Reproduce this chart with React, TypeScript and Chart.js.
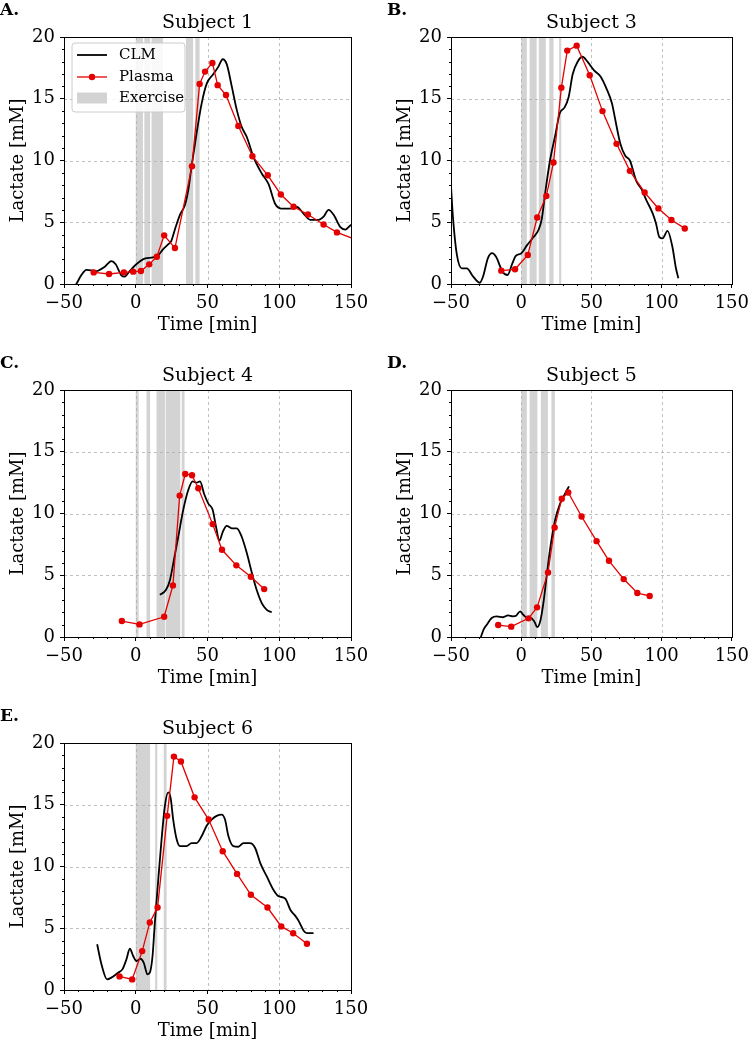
import React, { useEffect, useRef } from "react";
import { Chart, registerables } from "chart.js";
Chart.register(...registerables);

const FONT = '"DejaVu Serif", serif';
const RED = "rgb(228,0,0)";
const BAND = "#d3d3d3";

// Axis ticks
const xTicks = [-50, 0, 50, 100, 150];
const yTicks = [0, 5, 10, 15, 20];

// Subject 1
const s1ClmT = [-43, -41.4, -38, -34.4, -27.4, -21.6, -17, -14, -10, -7.7, -4.2, 0.4, 6.2, 12, 15.5, 19, 22.5, 24.8, 27.5, 30.8, 34.3, 36.6, 38.9, 42.4, 45.9, 49.4, 54.1, 57.6, 60.6, 63.4, 66.9, 70.4, 73.9, 77.4, 82, 87.8, 92.5, 97.1, 101.8, 107.6, 112.3, 116.9, 121.6, 127.4, 130.9, 134.4, 137.9, 142.6, 146, 150, 153];
const s1ClmV = [-0.3, 0, 0.7, 1.15, 1.05, 1.4, 1.85, 1.6, 0.7, 0.6, 1.05, 1.6, 2.05, 2.15, 2.3, 2.8, 3.2, 3.5, 4.5, 5.6, 6.4, 7.6, 9.5, 12.2, 14.6, 16.2, 17.0, 17.6, 18.2, 17.8, 16.0, 14.1, 12.7, 11.9, 10.3, 8.95, 8.1, 6.5, 6.1, 6.1, 6.25, 5.7, 5.2, 5.2, 5.45, 6.0, 5.6, 4.6, 4.4, 4.8, 5.0];
const s1PlT = [-29.3, -18.6, -8.3, -1.8, 3.6, 9.4, 14.7, 19.8, 27.3, 39.2, 44.5, 48.3, 53.4, 57.1, 62.9, 71.5, 81.3, 92.0, 101.1, 110, 120, 130.9, 140.2, 160];
const s1PlV = [0.94, 0.81, 0.94, 1.0, 1.05, 1.59, 2.21, 3.94, 2.91, 9.54, 16.2, 17.2, 17.9, 16.1, 15.3, 12.8, 10.35, 8.8, 7.25, 6.25, 5.63, 4.82, 4.18, 3.3];
const s1BandStart = [0, 6, 11, 35, 41.5];
const s1BandEnd = [5, 10, 19, 40, 44.5];

// Subject 3
const s3ClmT = [-51, -50, -48.6, -45.8, -42.3, -38.8, -34.2, -29.5, -27.2, -23.7, -20.7, -17.9, -13.3, -9.8, -6.3, -4, 0, 4.2, 8.8, 12.3, 14.7, 17, 20.5, 24, 27.4, 30.9, 33.7, 36.7, 40.2, 43.7, 47.2, 51.9, 56.5, 61.2, 64.7, 67, 70.5, 74, 77.4, 82.1, 85.6, 89.1, 93.7, 96, 98.4, 100.7, 104.2, 107.7, 110, 111.9];
const s3ClmV = [9.5, 7.9, 5.4, 2.35, 1.27, 1.27, 0.6, 0.1, 0.6, 2.1, 2.5, 2.2, 1.0, 0.73, 1.67, 2.26, 2.48, 3.15, 3.8, 4.37, 5.3, 7.3, 10, 11.9, 13.8, 14.3, 15.1, 17, 18, 18.4, 18, 17.3, 16.8, 15.7, 14.6, 13.3, 11.4, 10.4, 10.0, 8.3, 7.7, 6.8, 5.7, 4.9, 3.8, 3.7, 4.3, 3.0, 1.4, 0.46];
const s3PlT = [-14.2, -4.4, 4.7, 11.4, 17.9, 23.0, 28.6, 32.8, 39.5, 48.8, 57.9, 67.9, 77.4, 87.9, 97.7, 107, 116.5];
const s3PlV = [1.08, 1.19, 2.35, 5.39, 7.12, 9.84, 15.9, 18.9, 19.3, 16.9, 14.0, 11.35, 9.16, 7.41, 6.12, 5.18, 4.5];
const s3BandStart = [0, 6, 12.5, 20, 27];
const s3BandEnd = [4, 11, 17.5, 23, 28.5];

// Subject 4
const s4ClmT = [16.8, 21, 23.8, 26.6, 29.6, 33.1, 36.6, 39.6, 42.4, 44.8, 47.6, 50.6, 53.6, 55.9, 58.3, 60.6, 63.4, 66.9, 70.4, 73.9, 77.4, 80.9, 84.3, 87.8, 91.3, 94.8];
const s4ClmV = [3.42, 3.8, 4.6, 6.25, 8.1, 10.3, 11.9, 12.6, 12.5, 12.6, 11.6, 10.8, 10.3, 8.95, 7.8, 8.5, 9.0, 8.8, 8.8, 8.1, 6.8, 5.2, 3.8, 2.75, 2.2, 2.0];
const s4PlT = [-9.7, 2.6, 19.8, 25.9, 30.6, 34.5, 39.2, 43.6, 53.6, 60.1, 70.1, 80.2, 89.5];
const s4PlV = [1.29, 1.02, 1.64, 4.18, 11.45, 13.2, 13.1, 12.05, 9.14, 7.06, 5.8, 4.88, 3.88];
const s4BandStart = [0, 7.5, 14.5, 21, 32];
const s4BandEnd = [2, 10, 20.5, 31, 34];

// Subject 5
const s5ClmT = [-29.5, -28.7, -26.8, -24.5, -21, -17.5, -12.9, -9.4, -5.9, -3.6, -0.8, 1.5, 4.5, 6.8, 9.2, 11.5, 13.8, 16.1, 18.4, 20.8, 24.2, 27.7, 31.2, 34];
const s5ClmV = [-0.3, 0, 0.6, 1.0, 1.54, 1.67, 1.6, 1.75, 1.67, 1.72, 2.08, 1.8, 1.54, 1.54, 1.27, 0.8, 1.4, 3.0, 5.2, 7.3, 9.5, 10.8, 11.6, 12.2];
const s5PlT = [-16.4, -7.1, 5.2, 11.3, 19.1, 23.8, 28.9, 33.5, 43.0, 53.7, 62.5, 73.0, 82.7, 91.5];
const s5PlV = [0.97, 0.84, 1.51, 2.4, 5.23, 8.87, 11.2, 11.7, 9.76, 7.76, 6.17, 4.69, 3.56, 3.32];
const s5BandStart = [0, 6, 14, 21.5];
const s5BandEnd = [4, 11.5, 19, 24];

// Subject 6
const s6ClmT = [-26.9, -23.9, -20, -17, -12.3, -9.3, -6.5, -4.1, -1.8, 0.5, 3.3, 5.6, 8.2, 9.8, 11.7, 13.3, 15.7, 18, 20.3, 22.6, 24.3, 26.1, 28.5, 30.8, 35.4, 38.9, 42.4, 45.9, 49.4, 52.9, 56.4, 59.9, 62.2, 64.6, 68, 71.5, 75, 79.6, 83.2, 86.7, 91.3, 96, 99.5, 104.2, 107.7, 111.2, 113.5, 117, 119.3, 123.9];
const s6ClmV = [3.7, 2.08, 0.86, 1.0, 1.4, 1.67, 2.48, 3.34, 2.75, 2.35, 2.53, 2.2, 1.27, 1.4, 2.75, 5.44, 8.95, 12.2, 14.9, 16.0, 15.55, 13.8, 12.2, 11.65, 11.65, 11.9, 11.9, 12.45, 13.3, 13.8, 14.1, 14.2, 13.8, 12.45, 11.65, 11.6, 11.9, 11.9, 11.5, 10.3, 9.2, 8.1, 7.6, 7.4, 6.5, 6.0, 5.6, 4.8, 4.6, 4.6];
const s6PlT = [-11.3, -2.5, 4.5, 9.8, 15.2, 21.9, 26.6, 31.5, 41.0, 50.8, 60.6, 70.6, 80.2, 91.8, 101.4, 109.7, 119.3];
const s6PlV = [1.1, 0.86, 3.15, 5.47, 6.68, 14.1, 18.9, 18.5, 15.6, 13.8, 11.24, 9.4, 7.71, 6.68, 5.15, 4.6, 3.75];
const s6BandStart = [0, 13.5, 19.5];
const s6BandEnd = [10, 15, 21.5];

const zip = (t: number[], v: number[]) => t.map((x, i) => ({ x, y: v[i] }));

type PanelDef = {
  label: string;
  title: string;
  clmT: number[];
  clmV: number[];
  plT: number[];
  plV: number[];
  bs: number[];
  be: number[];
  left: number;
  top: number;
  padLeft: number;
  padRight: number;
  legend: boolean;
};

const panels: PanelDef[] = [
  { label: "A.", title: "Subject 1", clmT: s1ClmT, clmV: s1ClmV, plT: s1PlT, plV: s1PlV, bs: s1BandStart, be: s1BandEnd, left: 0, top: 0, padLeft: 0, padRight: 26, legend: true },
  { label: "B.", title: "Subject 3", clmT: s3ClmT, clmV: s3ClmV, plT: s3PlT, plV: s3PlV, bs: s3BandStart, be: s3BandEnd, left: 377, top: 0, padLeft: 10, padRight: 16, legend: false },
  { label: "C.", title: "Subject 4", clmT: s4ClmT, clmV: s4ClmV, plT: s4PlT, plV: s4PlV, bs: s4BandStart, be: s4BandEnd, left: 0, top: 353, padLeft: 0, padRight: 26, legend: false },
  { label: "D.", title: "Subject 5", clmT: s5ClmT, clmV: s5ClmV, plT: s5PlT, plV: s5PlV, bs: s5BandStart, be: s5BandEnd, left: 377, top: 353, padLeft: 10, padRight: 16, legend: false },
  { label: "E.", title: "Subject 6", clmT: s6ClmT, clmV: s6ClmV, plT: s6PlT, plV: s6PlV, bs: s6BandStart, be: s6BandEnd, left: 0, top: 706, padLeft: 0, padRight: 26, legend: false },
];

const W = 377;
const H = 336;
const PLOT_BOTTOM = 284;

function makeDecor(p: PanelDef) {
  return {
    id: "decor",
    beforeDatasetsDraw(chart: any) {
      const { ctx, chartArea: a, scales } = chart;
      const xs = scales.x;
      const ys = scales.y;
      ctx.save();
      ctx.beginPath();
      ctx.rect(a.left, a.top, a.right - a.left, a.bottom - a.top);
      ctx.clip();
      ctx.fillStyle = BAND;
      p.bs.forEach((s, i) => {
        const x0 = xs.getPixelForValue(s);
        const x1 = xs.getPixelForValue(p.be[i]);
        ctx.fillRect(x0, a.top, x1 - x0, a.bottom - a.top);
      });
      ctx.strokeStyle = "#b0b0b0";
      ctx.lineWidth = 0.8;
      ctx.setLineDash([3, 3]);
      xTicks.slice(1, -1).forEach((v) => {
        const x = Math.round(xs.getPixelForValue(v)) + 0.5;
        ctx.beginPath();
        ctx.moveTo(x, a.top);
        ctx.lineTo(x, a.bottom);
        ctx.stroke();
      });
      yTicks.slice(1, -1).forEach((v) => {
        const y = Math.round(ys.getPixelForValue(v)) + 0.5;
        ctx.beginPath();
        ctx.moveTo(a.left, y);
        ctx.lineTo(a.right, y);
        ctx.stroke();
      });
      ctx.restore();
    },
    afterDatasetsDraw(chart: any) {
      const { ctx, chartArea: a, scales } = chart;
      const xs = scales.x;
      const ys = scales.y;
      ctx.save();
      // frame
      ctx.strokeStyle = "#000";
      ctx.lineWidth = 1;
      ctx.setLineDash([]);
      ctx.strokeRect(Math.round(a.left) + 0.5, Math.round(a.top) + 0.5, Math.round(a.right - a.left), Math.round(a.bottom - a.top));
      // minor ticks
      ctx.beginPath();
      for (let v = 1; v < 20; v++) {
        if (v % 5 === 0) continue;
        const y = Math.round(ys.getPixelForValue(v)) + 0.5;
        ctx.moveTo(a.left, y);
        ctx.lineTo(a.left - 2, y);
      }
      for (let v = -40; v < 150; v += 10) {
        if (v % 50 === 0) continue;
        const x = Math.round(xs.getPixelForValue(v)) + 0.5;
        ctx.moveTo(x, a.bottom);
        ctx.lineTo(x, a.bottom + 2);
      }
      ctx.stroke();
      // title
      ctx.fillStyle = "#000";
      ctx.font = `19px ${FONT}`;
      ctx.textAlign = "center";
      ctx.textBaseline = "alphabetic";
      ctx.fillText(p.title, (a.left + a.right) / 2, 28);
      // panel label
      ctx.font = `bold 17px ${FONT}`;
      ctx.textAlign = "left";
      ctx.fillText(p.label, p.padLeft, 15);
      // legend
      if (p.legend) {
        const lx = 72, ly = 43, lw = 113, lh = 69, r = 3;
        ctx.beginPath();
        ctx.moveTo(lx + r, ly);
        ctx.arcTo(lx + lw, ly, lx + lw, ly + lh, r);
        ctx.arcTo(lx + lw, ly + lh, lx, ly + lh, r);
        ctx.arcTo(lx, ly + lh, lx, ly, r);
        ctx.arcTo(lx, ly, lx + lw, ly, r);
        ctx.closePath();
        ctx.fillStyle = "rgba(255,255,255,0.85)";
        ctx.fill();
        ctx.strokeStyle = "#cccccc";
        ctx.lineWidth = 1;
        ctx.stroke();
        const sx0 = 77, sx1 = 107, tx = 119;
        const rows = [55, 77, 98];
        ctx.strokeStyle = "#000";
        ctx.lineWidth = 1.8;
        ctx.beginPath();
        ctx.moveTo(sx0, rows[0]);
        ctx.lineTo(sx1, rows[0]);
        ctx.stroke();
        ctx.strokeStyle = RED;
        ctx.lineWidth = 1.3;
        ctx.beginPath();
        ctx.moveTo(sx0, rows[1]);
        ctx.lineTo(sx1, rows[1]);
        ctx.stroke();
        ctx.fillStyle = RED;
        ctx.beginPath();
        ctx.arc((sx0 + sx1) / 2, rows[1], 3.2, 0, Math.PI * 2);
        ctx.fill();
        ctx.fillStyle = BAND;
        ctx.fillRect(sx0, rows[2] - 5.5, sx1 - sx0, 11);
        ctx.fillStyle = "#000";
        ctx.font = `15px ${FONT}`;
        ctx.textBaseline = "middle";
        ctx.fillText("CLM", tx, rows[0]);
        ctx.fillText("Plasma", tx, rows[1]);
        ctx.fillText("Exercise", tx, rows[2]);
      }
      ctx.restore();
    },
  };
}

function Panel({ p }: { p: PanelDef }) {
  const ref = useRef<HTMLCanvasElement>(null);
  useEffect(() => {
    const tickFont = { family: FONT, size: 18 };
    const chart = new Chart(ref.current as HTMLCanvasElement, {
      type: "scatter",
      data: {
        datasets: [
          {
            label: "Plasma",
            data: zip(p.plT, p.plV),
            showLine: true,
            borderColor: RED,
            backgroundColor: RED,
            borderWidth: 1.3,
            pointRadius: 3.2,
            pointBorderWidth: 0,
            pointBackgroundColor: RED,
            tension: 0,
            order: 0,
          },
          {
            label: "CLM",
            data: zip(p.clmT, p.clmV),
            showLine: true,
            borderColor: "#000",
            backgroundColor: "#000",
            borderWidth: 1.8,
            pointRadius: 0,
            cubicInterpolationMode: "monotone",
            order: 1,
          },
        ],
      } as any,
      options: {
        animation: false,
        responsive: false,
        devicePixelRatio: 1,
        events: [],
        layout: { padding: { left: p.padLeft, right: p.padRight, top: 37, bottom: 0 } },
        plugins: { legend: { display: false }, tooltip: { enabled: false }, title: { display: false } },
        scales: {
          x: {
            type: "linear",
            min: -50,
            max: 150,
            afterBuildTicks: (s: any) => {
              s.ticks = xTicks.map((v) => ({ value: v }));
            },
            ticks: {
              color: "#000",
              font: tickFont,
              padding: 5,
              maxRotation: 0,
              autoSkip: false,
              callback: (v: any) => String(v).replace("-", "\u2212"),
            },
            grid: { drawOnChartArea: false, drawTicks: true, tickLength: 4, tickColor: "#000", tickWidth: 1 },
            border: { display: false },
            title: { display: true, text: "Time [min]", color: "#000", font: { family: FONT, size: 18 }, padding: { top: 1.2, bottom: 0 } },
            afterFit: (s: any) => {
              s.height = H - PLOT_BOTTOM;
            },
          },
          y: {
            type: "linear",
            min: 0,
            max: 20,
            afterBuildTicks: (s: any) => {
              s.ticks = yTicks.map((v) => ({ value: v }));
            },
            ticks: { color: "#000", font: tickFont, padding: 5, autoSkip: false },
            grid: { drawOnChartArea: false, drawTicks: true, tickLength: 4, tickColor: "#000", tickWidth: 1 },
            border: { display: false },
            title: { display: true, text: "Lactate [mM]", color: "#000", font: { family: FONT, size: 18 }, padding: { top: 7.7, bottom: 0 } },
            afterFit: (s: any) => {
              s.width = 64;
            },
          },
        },
      } as any,
      plugins: [makeDecor(p)],
    });
    return () => chart.destroy();
  }, [p]);
  return (
    <canvas
      ref={ref}
      width={W}
      height={H}
      style={{ position: "absolute", left: p.left, top: p.top, width: W, height: H }}
    />
  );
}

export default function App() {
  return (
    <div style={{ position: "absolute", left: 0, top: 0, width: 754, height: 1039, overflow: "hidden", background: "#fff" }}>
      {panels.map((p) => (
        <Panel key={p.label} p={p} />
      ))}
    </div>
  );
}
